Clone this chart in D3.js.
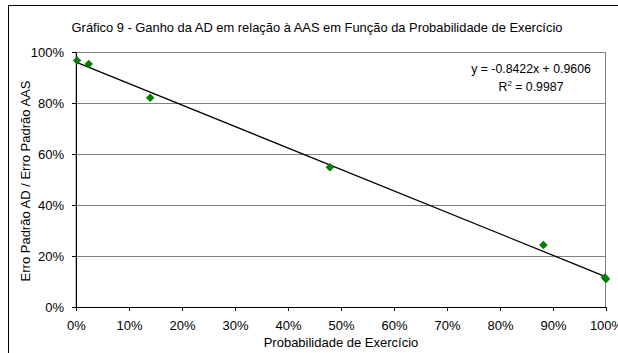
<!DOCTYPE html>
<html>
<head>
<meta charset="utf-8">
<style>
  body { margin: 0; background: #fff; }
  text { font-family: "Liberation Sans", Arial, sans-serif; fill: #000; }
  .axis text { font-size: 13px; }
  .axis path, .axis line { stroke: #000; }
</style>
</head>
<body>
<script src="https://cdn.jsdelivr.net/npm/d3@7/dist/d3.min.js"></script>
<script>
// values
var probExercicio = [0.002, 0.024, 0.14, 0.479, 0.882, 0.998, 1.0];
var razaoErro     = [0.967, 0.953, 0.821, 0.548, 0.243, 0.116, 0.110];
var xTicks = [0, 0.1, 0.2, 0.3, 0.4, 0.5, 0.6, 0.7, 0.8, 0.9, 1.0];
var yTicks = [0, 0.2, 0.4, 0.6, 0.8, 1.0];
var slope = -0.8422, intercept = 0.9606;

var W = 618, H = 353;
var margin = {top: 52, right: 12, bottom: 46, left: 76};
var width = W - margin.left - margin.right,
    height = H - margin.top - margin.bottom;

var svg = d3.select("body").append("svg")
    .attr("width", W)
    .attr("height", H);

// outer chart frame (runs off the window on the right and bottom)
svg.append("rect")
    .attr("x", 8.5).attr("y", 5.5)
    .attr("width", W + 20).attr("height", H + 20)
    .attr("fill", "none").attr("stroke", "#000");

svg.append("text")
    .attr("x", 317).attr("y", 32)
    .attr("text-anchor", "middle")
    .style("font-size", "12.9px")
    .text("Gráfico 9 - Ganho da AD em relação à AAS em Função da Probabilidade de Exercício");

var g = svg.append("g")
    .attr("transform", "translate(" + margin.left + "," + margin.top + ")");

var x = d3.scaleLinear().domain([0, 1]).range([0, width]);
var y = d3.scaleLinear().domain([0, 1]).range([height, 0]);
var pct = d3.format(".0%");

// plot area border
g.append("rect")
    .attr("x", 0).attr("y", 0.5)
    .attr("width", width - 0.5).attr("height", height)
    .attr("fill", "none").attr("stroke", "#808080");

// gridlines
g.selectAll(".grid")
    .data(yTicks.slice(1))
  .enter().append("line")
    .attr("class", "grid")
    .attr("x1", 0).attr("x2", width)
    .attr("y1", function(d) { return Math.round(y(d)) + 0.5; })
    .attr("y2", function(d) { return Math.round(y(d)) + 0.5; })
    .attr("stroke", "#808080");

g.append("g")
    .attr("class", "axis")
    .attr("transform", "translate(0," + height + ")")
    .call(d3.axisBottom(x).tickValues(xTicks).tickFormat(pct).tickSize(4).tickSizeOuter(0).tickPadding(10));

g.append("g")
    .attr("class", "axis")
    .call(d3.axisLeft(y).tickValues(yTicks).tickFormat(pct).tickSize(4).tickSizeOuter(0).tickPadding(8));

// trendline
g.append("line")
    .attr("x1", x(0)).attr("y1", y(intercept))
    .attr("x2", x(1)).attr("y2", y(slope + intercept))
    .attr("stroke", "#000").attr("stroke-width", 1.3);

// points
var data = probExercicio.map(function(d, i) { return {x: d, y: razaoErro[i]}; });
g.selectAll(".pt")
    .data(data)
  .enter().append("path")
    .attr("class", "pt")
    .attr("d", d3.symbol().type(d3.symbolDiamond2).size(46))
    .attr("transform", function(d) { return "translate(" + x(d.x) + "," + y(d.y) + ")"; })
    .attr("fill", "#008000");

// equation
var eq = g.append("text")
    .attr("x", 455).attr("y", 21)
    .attr("text-anchor", "middle")
    .style("font-size", "12.3px");
eq.append("tspan").text("y = -0.8422x + 0.9606");
var r2 = g.append("text")
    .attr("x", 455).attr("y", 39)
    .attr("text-anchor", "middle")
    .style("font-size", "12.3px");
r2.append("tspan").text("R");
r2.append("tspan").attr("dy", -5).style("font-size", "8px").text("2");
r2.append("tspan").attr("dy", 5).text(" = 0.9987");

// axis labels
svg.append("text")
    .attr("x", margin.left + width / 2).attr("y", 347)
    .attr("text-anchor", "middle")
    .style("font-size", "13px")
    .text("Probabilidade de Exercício");

svg.append("text")
    .attr("transform", "translate(30,181) rotate(-90)")
    .attr("text-anchor", "middle")
    .style("font-size", "13px")
    .text("Erro Padrão AD / Erro Padrão AAS");
</script>
</body>
</html>
